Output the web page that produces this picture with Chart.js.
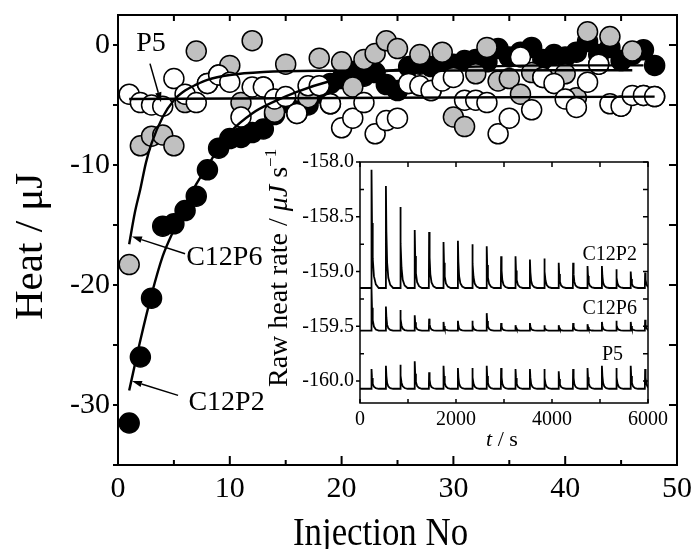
<!DOCTYPE html>
<html>
<head>
<meta charset="utf-8">
<script src="https://cdn.jsdelivr.net/npm/chart.js@4.4.1/dist/chart.umd.min.js"></script>
<style>
  html, body { margin: 0; padding: 0; background: #fff; }
  #wrap { position: relative; width: 696px; height: 549px; }
  #heatChart { position: absolute; left: 0; top: 0; }
  #rateChart { position: absolute; left: 250px; top: 140px; }
</style>
</head>
<body>
<div id="wrap">
  <canvas id="heatChart" width="696" height="549"></canvas>
  <canvas id="rateChart" width="430" height="315"></canvas>
</div>
<script>
// main plot: heat per injection
const injection = [1, 2, 3, 4, 5, 6, 7, 8, 9, 10, 11, 12, 13, 14, 15, 16, 17, 18, 19, 20, 21, 22, 23, 24,
  25, 26, 27, 28, 29, 30, 31, 32, 33, 34, 35, 36, 37, 38, 39, 40, 41, 42, 43, 44, 45, 46, 47, 48];
const heatC12P2 = [-31.5, -26.0, -21.1, -15.1, -14.9, -13.8, -12.6, -10.4, -8.6, -7.8,
  -7.7, -7.3, -7.0, -5.8, -4.8, -5.5, -5.0, -4.0, -3.2, -2.8,
  -2.2, -2.6, -2.3, -3.3, -3.8, -1.8, -1.6, -1.8, -1.5, -1.6,
  -1.3, -1.2, -1.4, -0.3, -1.0, -0.6, -0.2, -1.2, -0.8, -1.0,
  -0.6, 0.3, -0.8, -0.2, -1.3, -0.8, -0.4, -1.7];
const heatC12P6 = [-18.3, -8.4, -7.6, -7.5, -8.4, -4.8, -0.5, -3.2, -2.5, -1.7,
  -4.8, 0.36, -3.5, -5.6, -1.6, -5.7, -4.4, -1.1, -4.9, -1.4,
  -3.5, -1.2, -0.7, 0.35, -0.3, -3.2, -0.8, -3.8, -0.6, -6.0,
  -6.8, -2.4, -0.2, -3.0, -2.8, -4.1, -2.3, -2.7, -3.2, -2.4,
  -4.4, 1.1, -1.6, 0.7, -5.1, -0.5, -4.2, -4.3];
const heatP5 = [-4.1, -4.8, -5.0, -5.1, -2.8, -4.1, -4.8, -3.2, -2.5, -3.1,
  -6.0, -3.5, -3.5, -4.5, -4.3, -5.7, -3.4, -3.4, -4.9, -6.9,
  -6.1, -4.8, -7.4, -6.3, -6.1, -3.2, -3.4, -3.8, -3.0, -2.7,
  -4.6, -4.6, -4.8, -7.4, -6.1, -1.0, -5.4, -2.7, -3.2, -4.5,
  -5.2, -3.1, -1.6, -4.9, -5.1, -4.2, -4.2, -4.3];

// fitted curves
const fitC12P2N = [1, 2, 3, 4, 5, 6, 7, 8, 9, 10, 12, 14, 16, 19, 22, 26, 32, 40, 47];
const fitC12P2 = [-28.8, -24.6, -20.8, -17.6, -15.4, -13.4, -11.6, -10.1, -8.6, -7.3, -5.7, -4.7, -3.9, -3.0, -2.4, -2.0, -1.8, -1.7, -1.7];
const fitC12P6N = [1, 1.5, 2, 2.5, 3, 4, 5, 6, 7, 8, 10, 13, 18, 46];
const fitC12P6 = [-16.6, -14.0, -12.0, -9.8, -8.2, -6.0, -4.6, -3.8, -3.3, -2.9, -2.5, -2.25, -2.15, -2.1];
const fitP5N = [1, 48];
const fitP5 = [-4.5, -4.3];

const injTicks = [0, 10, 20, 30, 40, 50];
const heatTicks = [-30, -20, -10, 0];

// inset: raw heat rate traces
const injTimes = [240, 540, 840, 1140, 1440, 1740, 2040, 2340, 2640, 2940,
  3240, 3540, 3840, 4140, 4440, 4740, 5040, 5340, 5640, 5940];
const baseC12P2 = -159.15;
const peakC12P2 = [-158.07, -158.22, -158.41, -158.62, -158.64, -158.73, -158.72, -158.75, -158.77, -158.86,
  -158.86, -158.89, -158.88, -158.92, -158.92, -158.95, -158.95, -158.98, -159.0, -159.01];
const baseC12P6 = -159.54;
const peakC12P6 = [-159.16, -159.32, -159.35, -159.40, -159.43, -159.46, -159.45, -159.45, -159.38, -159.47,
  -159.49, -159.47, -159.49, -159.49, -159.47, -159.48, -159.46, -159.45, -159.46, -159.44];
const baseP5 = -160.07;
const peakP5 = [-159.89, -159.86, -159.85, -159.82, -159.92, -159.86, -159.88, -159.88, -159.86, -159.88,
  -159.89, -159.89, -159.89, -159.91, -159.89, -159.88, -159.86, -159.88, -159.86, -159.89];
// spike shape: [seconds after injection, fraction of peak height]
const spikeShape = [[-6, 0], [0, 1], [10, 0.55], [25, 0.25], [50, 0.1], [90, 0.03], [150, 0]];

const timeTicks = [0, 2000, 4000, 6000];
const rateTicks = [-160.0, -159.5, -159.0, -158.5, -158.0];

const SERIF = "'Liberation Serif', 'Times New Roman', serif";

function pairs(xs, ys) {
  return xs.map((v, i) => ({x: v, y: ys[i]}));
}

function trace(base, peaks) {
  const pts = [{x: 0, y: base}];
  injTimes.forEach((t, i) => {
    spikeShape.forEach(([dt, f]) => pts.push({x: t + dt, y: base + f * (peaks[i] - base)}));
  });
  return pts;
}

// box frame with tick marks; lengths > 0 point inward
function makeFrame(spec) {
  return {
    id: 'frame',
    afterDatasetsDraw(chart) {
      const {ctx, chartArea: a, scales: {x, y}} = chart;
      ctx.save();
      ctx.strokeStyle = '#000';
      ctx.lineWidth = spec.width;
      ctx.strokeRect(a.left, a.top, a.right - a.left, a.bottom - a.top);
      ctx.beginPath();
      const nx = Math.round((x.max - x.min) / spec.xStep);
      for (let i = 0; i <= nx; i++) {
        const v = x.min + i * spec.xStep, px = x.getPixelForValue(v);
        ctx.moveTo(px, a.bottom); ctx.lineTo(px, a.bottom - spec.bottom(v));
        ctx.moveTo(px, a.top); ctx.lineTo(px, a.top + spec.top(v));
      }
      const y0 = Math.ceil(y.min / spec.yStep - 1e-9) * spec.yStep;
      const ny = Math.floor((y.max - y0) / spec.yStep + 1e-9);
      for (let i = 0; i <= ny; i++) {
        const v = y0 + i * spec.yStep, py = y.getPixelForValue(v);
        ctx.moveTo(a.left, py); ctx.lineTo(a.left + spec.left(v), py);
        ctx.moveTo(a.right, py); ctx.lineTo(a.right - spec.right(v), py);
      }
      ctx.stroke();
      ctx.restore();
    }
  };
}

function arrow(ctx, from, to) {
  const ang = Math.atan2(to[1] - from[1], to[0] - from[0]);
  const len = 10, hw = 3.2;
  const bx = to[0] - len * Math.cos(ang), by = to[1] - len * Math.sin(ang);
  ctx.lineWidth = 1.5;
  ctx.beginPath();
  ctx.moveTo(from[0], from[1]);
  ctx.lineTo(bx, by);
  ctx.stroke();
  ctx.beginPath();
  ctx.moveTo(to[0], to[1]);
  ctx.lineTo(bx + hw * Math.sin(ang), by - hw * Math.cos(ang));
  ctx.lineTo(bx - hw * Math.sin(ang), by + hw * Math.cos(ang));
  ctx.closePath();
  ctx.fill();
}

// draws mixed-font text: parts = [[text, font, dy]]
function richText(ctx, parts, x, y, rot, align, sx) {
  ctx.save();
  ctx.translate(x, y);
  if (rot) ctx.rotate(rot);
  ctx.scale(sx || 1, 1);
  ctx.textBaseline = 'alphabetic';
  ctx.textAlign = 'left';
  let total = 0;
  parts.forEach(p => { ctx.font = p[1]; total += ctx.measureText(p[0]).width; });
  let cx = align === 'center' ? -total / 2 : 0;
  parts.forEach(p => {
    ctx.font = p[1];
    ctx.fillText(p[0], cx, p[2] || 0);
    cx += ctx.measureText(p[0]).width;
  });
  ctx.restore();
}

const heatNotes = {
  id: 'heatNotes',
  afterDraw(chart) {
    const {ctx, chartArea: a, scales: {x, y}} = chart;
    const P = (n, v) => [x.getPixelForValue(n), y.getPixelForValue(v)];
    ctx.save();
    ctx.fillStyle = '#000';
    ctx.strokeStyle = '#000';
    ctx.font = '28px ' + SERIF;
    ctx.textBaseline = 'middle';
    ctx.textAlign = 'center';
    ctx.fillText('P5', ...P(2.95, 0.1));
    ctx.textAlign = 'left';
    ctx.fillText('C12P6', ...P(6.1, -17.7));
    ctx.fillText('C12P2', ...P(6.3, -29.8));
    arrow(ctx, P(2.86, -1.55), P(3.85, -4.78));
    arrow(ctx, P(6.0, -17.4), P(1.25, -15.96));
    arrow(ctx, P(5.37, -29.2), P(1.25, -28.0));
    // axis titles
    richText(ctx, [['Injection No', '41px ' + SERIF]], (a.left + a.right) / 2 - 17, chart.height - 4, 0, 'center', 0.85);
    richText(ctx, [['Heat / μJ', '41px ' + SERIF]], 42, 320, -Math.PI / 2, 'left', 1);
    ctx.restore();
  }
};

const rateNotes = {
  id: 'rateNotes',
  afterDraw(chart) {
    const {ctx, chartArea: a, scales: {x, y}} = chart;
    ctx.save();
    ctx.fillStyle = '#000';
    ctx.font = '20px ' + SERIF;
    ctx.textBaseline = 'middle';
    ctx.textAlign = 'right';
    ctx.fillText('C12P2', x.getPixelForValue(5770), y.getPixelForValue(-158.85));
    ctx.fillText('C12P6', x.getPixelForValue(5770), y.getPixelForValue(-159.34));
    ctx.fillText('P5', x.getPixelForValue(5480), y.getPixelForValue(-159.76));
    richText(ctx, [['t', 'italic 22px ' + SERIF], [' / s', '22px ' + SERIF]],
      (a.left + a.right) / 2 - 2, 306, 0, 'center', 1);
    richText(ctx, [['Raw heat rate / ', '28px ' + SERIF], ['μJ', 'italic 28px ' + SERIF],
      [' s', '28px ' + SERIF], ['−1', '17px ' + SERIF, -11]], 37, 247, -Math.PI / 2, 'left', 1);
    ctx.restore();
  }
};

const pointStyle = (fill) => ({
  showLine: false, pointRadius: 10, pointBackgroundColor: fill,
  pointBorderColor: '#000', pointBorderWidth: 1.5
});
const fitStyle = {
  showLine: true, pointRadius: 0, borderColor: '#000', borderWidth: 2.4,
  cubicInterpolationMode: 'monotone', fill: false
};

const heatChart = new Chart(document.getElementById('heatChart'), {
  type: 'scatter',
  data: {
    datasets: [
      {label: 'P5 fit', data: pairs(fitP5N, fitP5), ...fitStyle, order: 0},
      {label: 'C12P6 fit', data: pairs(fitC12P6N, fitC12P6), ...fitStyle, order: 0},
      {label: 'C12P2 fit', data: pairs(fitC12P2N, fitC12P2), ...fitStyle, order: 0},
      {label: 'P5', data: pairs(injection, heatP5), ...pointStyle('#ffffff'), order: 1},
      {label: 'C12P6', data: pairs(injection, heatC12P6), ...pointStyle('#c0c0c0'), order: 2},
      {label: 'C12P2', data: pairs(injection, heatC12P2), ...pointStyle('#000000'), order: 3}
    ]
  },
  options: {
    responsive: false,
    animation: false,
    events: [],
    layout: {padding: {top: 15, right: 19, left: 0, bottom: 0}},
    plugins: {legend: {display: false}, tooltip: {enabled: false}},
    scales: {
      x: {
        type: 'linear', min: 0, max: 50,
        grid: {display: false, drawTicks: false},
        border: {display: false},
        afterBuildTicks: s => { s.ticks = injTicks.map(v => ({value: v})); },
        ticks: {color: '#000', font: {family: SERIF, size: 30}, padding: 6, maxRotation: 0, autoSkip: false,
          callback: v => String(v)},
        afterFit: s => { s.height = 84; s.paddingLeft = 0; s.paddingRight = 0; }
      },
      y: {
        type: 'linear', min: -35, max: 2.5,
        grid: {display: false, drawTicks: false},
        border: {display: false},
        afterBuildTicks: s => { s.ticks = heatTicks.map(v => ({value: v})); },
        ticks: {color: '#000', font: {family: SERIF, size: 30}, padding: 8, autoSkip: false,
          callback: v => String(v)},
        afterFit: s => { s.width = 118; s.paddingTop = 0; s.paddingBottom = 0; }
      }
    }
  },
  plugins: [makeFrame({
    width: 2, xStep: 5, yStep: 5,
    bottom: v => (v % 10 === 0 ? 9 : 5), top: () => 6,
    left: () => -5, right: () => 8
  }), heatNotes]
});

const traceStyle = {pointRadius: 0, borderColor: '#000', borderWidth: 1.8, tension: 0, fill: false};

const rateChart = new Chart(document.getElementById('rateChart'), {
  type: 'line',
  data: {
    datasets: [
      {label: 'C12P2', data: trace(baseC12P2, peakC12P2), ...traceStyle},
      {label: 'C12P6', data: trace(baseC12P6, peakC12P6), ...traceStyle},
      {label: 'P5', data: trace(baseP5, peakP5), ...traceStyle}
    ]
  },
  options: {
    responsive: false,
    animation: false,
    events: [],
    parsing: false,
    layout: {padding: {top: 22, right: 32, left: 0, bottom: 0}},
    plugins: {legend: {display: false}, tooltip: {enabled: false}},
    scales: {
      x: {
        type: 'linear', min: 0, max: 6000,
        grid: {display: false, drawTicks: false},
        border: {display: false},
        afterBuildTicks: s => { s.ticks = timeTicks.map(v => ({value: v})); },
        ticks: {color: '#000', font: {family: SERIF, size: 20}, padding: 5, maxRotation: 0, autoSkip: false,
          callback: v => String(v)},
        afterFit: s => { s.height = 52; s.paddingLeft = 0; s.paddingRight = 0; }
      },
      y: {
        type: 'linear', min: -160.2, max: -158.0,
        grid: {display: false, drawTicks: false},
        border: {display: false},
        afterBuildTicks: s => { s.ticks = rateTicks.map(v => ({value: v})); },
        ticks: {color: '#000', font: {family: SERIF, size: 20}, padding: 6, autoSkip: false,
          callback: v => v.toFixed(1)},
        afterFit: s => { s.width = 110; s.paddingTop = 0; s.paddingBottom = 0; }
      }
    }
  },
  plugins: [makeFrame({
    width: 1.5, xStep: 1000, yStep: 0.25,
    bottom: () => 4, top: () => 5,
    left: v => (Math.abs(v * 2 - Math.round(v * 2)) < 1e-6 ? -4 : 4), right: () => 5
  }), rateNotes]
});
</script>
</body>
</html>
